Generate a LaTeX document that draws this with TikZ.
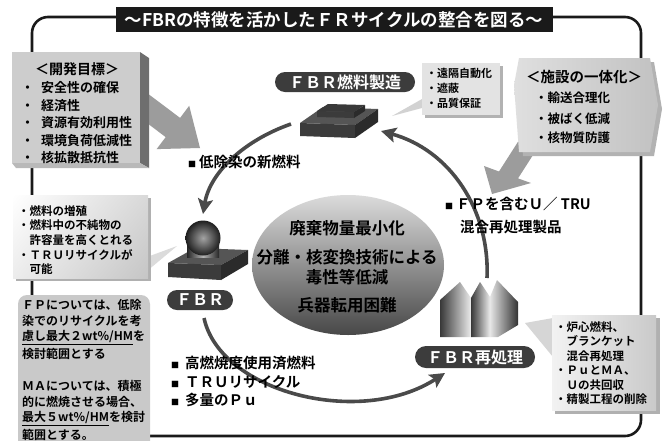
\documentclass[tikz,border=0pt]{standalone}
\usepackage{fontspec}
\setmainfont{Noto Sans CJK JP}[BoldFont={Noto Sans CJK JP Bold}]
\usetikzlibrary{arrows.meta,shadings}

\definecolor{ink}{HTML}{1A1A1A}
\definecolor{pilldark}{HTML}{3C3C3C}
\definecolor{arcgray}{HTML}{4A4A4A}
\definecolor{blockgray}{HTML}{9C9C9C}
\definecolor{panel}{HTML}{CDCDCD}
\definecolor{panelshadow}{HTML}{6E6E6E}
\definecolor{fpbox}{HTML}{C9C9C9}
\definecolor{solidtop}{HTML}{555555}
\definecolor{solidfront}{HTML}{3B3B3B}
\definecolor{solidside}{HTML}{2B2B2B}

\newcommand\jfs[2]{\fontsize{#1}{#2}\selectfont}
\newcommand\sq{{\jfs{8}{8}■}}

\tikzset{
  titlebar/.style={fill=ink, text=white, inner sep=0pt, minimum width=437pt, minimum height=25pt, font=\bfseries\jfs{17.5}{18}},
  hdr/.style={inner sep=0pt, font=\bfseries\jfs{14}{15}},
  item/.style={inner sep=0pt, anchor=west, font=\bfseries\jfs{13}{14}},
  small/.style={inner sep=0pt, anchor=west, font=\bfseries\jfs{11}{12}},
  note/.style={inner sep=0pt, anchor=west, font=\bfseries\jfs{11.5}{13}},
  fptext/.style={inner sep=0pt, anchor=west, font=\bfseries\jfs{12}{13}},
  lbl/.style={inner sep=0pt, anchor=west, font=\bfseries\jfs{14.5}{16}},
  core/.style={inner sep=0pt, font=\bfseries\jfs{16.5}{18}},
  pill/.style={fill=pilldark, rounded corners=10pt, text=white, inner sep=0pt, minimum height=20pt, font=\bfseries\jfs{16}{17}},
  cyclearrow/.style={draw=arcgray, line width=3.6pt, -{Stealth[length=15pt,width=15pt,inset=3pt]}},
}

\begin{document}
\begin{tikzpicture}[x=1pt,y=-1pt]
\useasboundingbox (0,0) rectangle (666,440);
\fill[white] (0,0) rectangle (666,440);

% outer frame
\draw[ink, line width=2.6pt, rounded corners=16pt] (32,17) rectangle (641,436);

% heading
\node[titlebar] (title) at (334,19.5) {～FBRの特徴を活かしたＦＲサイクルの整合を図る～};

% broad grey arrows from the goal panels
\fill[blockgray] (142.2,89.4) -- (180.1,117.9) -- (189.2,105.8) -- (200,148) -- (156.6,149.1) -- (165.7,137.1) -- (127.8,108.6) -- cycle;
\fill[blockgray] (530,123) -- (499,171.5) -- (484,166) -- (492,194) -- (531,183) -- (518,178.4) -- (549,130) -- cycle;

% development goals panel
\fill[panelshadow] (140,52) -- (149,58) -- (149,168) -- (140,163) -- cycle;
\fill[gray!55] (12,163) -- (140,163) -- (149,168) -- (16,168) -- cycle;
\fill[panel] (12,52) rectangle (140,163);
\node[hdr] (goalsHead) at (77,69) {＜開発目標＞};
\foreach \txt [count=\i from 0] in {安全性の確保,経済性,資源有効利用性,環境負荷低減性,核拡散抵抗性}
  \node[item] (goal\i) at (21,{88+17.5*\i}) {・\hspace{7pt}\txt};

% site integration panel
\fill[gray!60] (523,62) -- (654,62) -- (662,109) -- (654,156) -- (523,156) -- (518,89) -- cycle;
\shade[left color=gray!25, right color=gray!48] (519,58) -- (650,58) -- (658,105) -- (650,152) -- (519,152) -- (514,85) -- cycle;
\node[hdr, font=\bfseries\jfs{14.5}{16}] (siteHead) at (584,77) {＜施設の一体化＞};
\node[item, font=\bfseries\jfs{12.5}{14}] (site1) at (535,98) {・輸送合理化};
\node[item, font=\bfseries\jfs{12.5}{14}] (site2) at (535,119) {・被ばく低減};
\node[item, font=\bfseries\jfs{12.5}{14}] (site3) at (535,138) {・核物質防護};

% fuel fabrication notes
\fill[gray!35] (422,99) -- (392,116) -- (422,108) -- cycle;
\fill[gray!60] (425,66) rectangle (503,118);
\fill[gray!22] (422,63) rectangle (500,115);
\node[small] (fab1) at (426,73) {・遠隔自動化};
\node[small] (fab2) at (426,88) {・遮蔽};
\node[small] (fab3) at (426,103) {・品質保証};

% reactor notes
\fill[gray!28] (147,257) -- (177,246) -- (147,271) -- cycle;
\fill[gray!62] (16,198) rectangle (151,281);
\shade[upper left=white, upper right=gray!30, lower left=gray!15, lower right=gray!45] (13,195) rectangle (148,278);
\node[note] (rx1) at (18,211) {・燃料の増殖};
\node[note] (rx2) at (18,225.5) {・燃料中の不純物の};
\node[note] (rx3) at (18,240) {　許容量を高くとれる};
\node[note] (rx4) at (18,254.5) {・ＴＲＵリサイクルが};
\node[note] (rx5) at (18,269) {　可能};

% impurity limits
\fill[fpbox, rounded corners=9pt] (18,295) rectangle (150,450);
\node[fptext] (fp1) at (22,305) {ＦＰについては、低除};
\node[fptext] (fp2) at (22,321) {染でのリサイクルを考};
\node[fptext] (fp3) at (22,337.5) {\underline{慮し最大２wt\%/HM}を};
\node[fptext] (fp4) at (22,354) {検討範囲とする};
\node[fptext] (ma1) at (22,386) {ＭＡについては、積極};
\node[fptext] (ma2) at (22,402) {的に燃焼させる場合、};
\node[fptext] (ma3) at (22,418.5) {\underline{最大５wt\%/HM}を検討};
\node[fptext] (ma4) at (22,434.5) {範囲とする。};

% reprocessing notes
\fill[gray!32] (553,318) -- (525,323) -- (553,357) -- cycle;
\fill[gray!62] (555,318) rectangle (660,414);
\shade[left color=gray!10, right color=gray!42] (552,315) rectangle (656,410);
\node[note] (rp1) at (555,327) {・炉心燃料、};
\node[note] (rp2) at (555,341.5) {　ブランケット};
\node[note] (rp3) at (555,356) {　混合再処理};
\node[note] (rp4) at (555,370.5) {・ＰｕとＭＡ、};
\node[note] (rp5) at (555,385) {　Ｕの共回収};
\node[note] (rp6) at (555,399.5) {・精製工程の削除};

% central goals
\shade[top color=gray!28, middle color=gray!68, bottom color=black!72] (348,265) ellipse (96 and 70);
\node[core] (core1) at (347,228) {廃棄物量最小化};
\node[core] (core2) at (347,257) {分離・核変換技術による};
\node[core] (core3) at (347,277) {毒性等低減};
\node[core] (core4) at (347,305) {兵器転用困難};

% fuel fabrication plant
\fill[solidtop] (300,123) -- (323,107) -- (378,109) -- (355,125) -- cycle;
\fill[solidfront] (300,123) -- (355,125) -- (355,138) -- (300,136) -- cycle;
\fill[solidside] (355,125) -- (378,109) -- (378,122) -- (355,138) -- cycle;
\fill[solidfront] (317,111) -- (354,112) -- (354,118) -- (317,117) -- cycle;
\fill[solidside] (354,112) -- (365,105) -- (365,111) -- (354,118) -- cycle;
\fill[gray!45!black] (317,111) -- (328,104) -- (365,105) -- (354,112) -- cycle;

% reactor
\fill[solidtop] (168,263) -- (195,248) -- (248,250) -- (221,265) -- cycle;
\fill[solidfront] (168,263) -- (221,265) -- (221,280) -- (168,277) -- cycle;
\fill[solidside] (221,265) -- (248,250) -- (248,264) -- (221,280) -- cycle;
\shade[left color=black!85, right color=black!85, middle color=gray!60] (187,244) rectangle (219,257);
\shade[inner color=gray!72, outer color=black!88] (203,238) circle (17.5);

% reprocessing plant
\shade[left color=black!78, right color=gray!15] (440,337) -- (440,300) -- (460,282) -- (471,298) -- (471,337) -- cycle;
\shade[left color=black!78, right color=gray!15] (471,337) -- (471,298) -- (480,282) -- (490,297) -- (490,337) -- cycle;
\shade[left color=gray!20, right color=black!80] (490,337) -- (490,297) -- (497,280) -- (518,302) -- (518,325) -- (498,337) -- cycle;

% plant labels
\node[pill, minimum width=140pt] (fab) at (345,82) {ＦＢＲ燃料製造};
\node[pill, minimum width=66pt] (fbr) at (200,300) {ＦＢＲ};
\node[pill, minimum width=120pt, minimum height=22pt, rounded corners=11pt] (rep) at (475,357) {ＦＢＲ再処理};

% cycle connectors
\coordinate (fabOut) at (291,124);
\coordinate (fbrIn) at (203,214);
\coordinate (fbrOut) at (204,318);
\coordinate (repIn) at (445,373);
\coordinate (repOut) at (487,278);
\coordinate (fabIn) at (381,131);
\draw[cyclearrow] (fabOut) .. controls (245,140) and (210,172) .. (fbrIn);
\draw[cyclearrow] (fbrOut) .. controls (220,392) and (360,428) .. (repIn);
\draw[cyclearrow] (repOut) .. controls (490,210) and (450,150) .. (fabIn);

% material labels on the cycle
\node[lbl] (newFuel) at (188,162) {\sq\hspace{3pt}低除染の新燃料};
\node[lbl] (spent1) at (171,363) {\sq\hspace{6pt}高燃焼度使用済燃料};
\node[lbl] (spent2) at (171,382) {\sq\hspace{6pt}ＴＲＵリサイクル};
\node[lbl] (spent3) at (171,400) {\sq\hspace{6pt}多量のＰｕ};
\node[lbl] (prod1) at (445,204) {\sq\hspace{3pt}ＦＰを含むＵ／ TRU};
\node[lbl] (prod2) at (460,227) {混合再処理製品};
\end{tikzpicture}
\end{document}
